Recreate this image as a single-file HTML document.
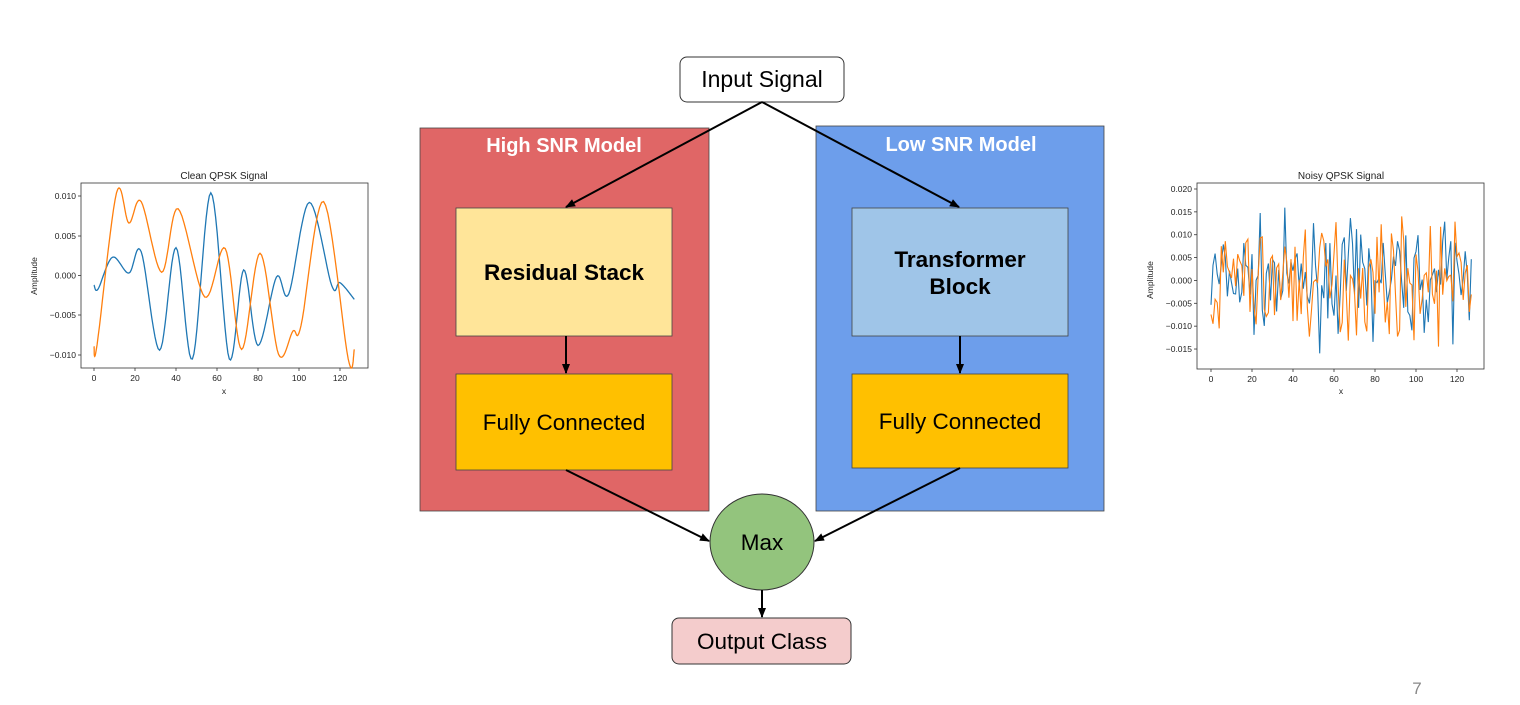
<!DOCTYPE html>
<html><head><meta charset="utf-8"><style>
body{margin:0;width:1520px;height:705px;background:#fff;overflow:hidden;font-family:"Liberation Sans",sans-serif}
svg{position:absolute;left:0;top:0}
</style></head><body>
<svg width="1520" height="705" viewBox="0 0 1520 705" font-family="Liberation Sans, sans-serif">
<defs><marker id="a" markerWidth="10" markerHeight="10" refX="9" refY="5" orient="auto" markerUnits="userSpaceOnUse"><path d="M0,1 L10,5 L0,9 z" fill="#000"/></marker></defs>
<rect x="420" y="128" width="289" height="383" fill="#e06666" stroke="#444" stroke-width="0.8"/>
<text x="564" y="152" text-anchor="middle" fill="#fff" font-weight="bold" font-size="20">High SNR Model</text>
<rect x="816" y="126" width="288" height="385" fill="#6d9eeb" stroke="#444" stroke-width="0.8"/>
<text x="961" y="151" text-anchor="middle" fill="#fff" font-weight="bold" font-size="20">Low SNR Model</text>
<rect x="680" y="57" width="164" height="45" rx="7" fill="#fff" stroke="#333"/>
<text x="762" y="87" text-anchor="middle" font-size="23">Input Signal</text>
<rect x="456" y="208" width="216" height="128" fill="#ffe599" stroke="#444" stroke-width="0.8"/>
<text x="564" y="280" text-anchor="middle" font-size="22.5" font-weight="bold">Residual Stack</text>
<rect x="456" y="374" width="216" height="96" fill="#ffc000" stroke="#444" stroke-width="0.8"/>
<text x="564" y="430" text-anchor="middle" font-size="22.5">Fully Connected</text>
<rect x="852" y="208" width="216" height="128" fill="#9fc5e8" stroke="#444" stroke-width="0.8"/>
<text x="960" y="267" text-anchor="middle" font-size="22.5" font-weight="bold">Transformer</text>
<text x="960" y="294" text-anchor="middle" font-size="22.5" font-weight="bold">Block</text>
<rect x="852" y="374" width="216" height="94" fill="#ffc000" stroke="#444" stroke-width="0.8"/>
<text x="960" y="429" text-anchor="middle" font-size="22.5">Fully Connected</text>
<ellipse cx="762" cy="542" rx="52" ry="48" fill="#93c47d" stroke="#333"/>
<text x="762" y="550" text-anchor="middle" font-size="22.5">Max</text>
<rect x="672" y="618" width="179" height="46" rx="7" fill="#f4cccc" stroke="#333"/>
<text x="762" y="649" text-anchor="middle" font-size="22.5">Output Class</text>
<g stroke="#000" stroke-width="2" marker-end="url(#a)">
<line x1="762" y1="102" x2="566" y2="207"/><line x1="762" y1="102" x2="959" y2="207"/>
<line x1="566" y1="336" x2="566" y2="373"/><line x1="960" y1="336" x2="960" y2="373"/>
<line x1="566" y1="470" x2="709" y2="541"/><line x1="960" y1="468" x2="815" y2="541"/>
<line x1="762" y1="590" x2="762" y2="617"/>
</g>
<text x="1417" y="694" text-anchor="middle" font-size="17" fill="#888">7</text>
<g id="L" font-size="8.5" fill="#222">
<text x="224" y="179" text-anchor="middle" font-size="10">Clean QPSK Signal</text>
<rect x="81" y="183" width="287" height="185" fill="none" stroke="#333" stroke-width="0.8"/>
<text x="224" y="394" text-anchor="middle">x</text>
<text x="37" y="276" text-anchor="middle" transform="rotate(-90 37 276)">Amplitude</text>
</g>
<g id="R" font-size="8.5" fill="#222">
<text x="1341" y="179" text-anchor="middle" font-size="10">Noisy QPSK Signal</text>
<rect x="1197" y="183" width="287" height="186" fill="none" stroke="#333" stroke-width="0.8"/>
<text x="1341" y="394" text-anchor="middle">x</text>
<text x="1153" y="280" text-anchor="middle" transform="rotate(-90 1153 280)">Amplitude</text>
</g>
<polyline id="lb" fill="none" stroke="#1f77b4" stroke-width="1.3"/>
<polyline id="lo" fill="none" stroke="#ff7f0e" stroke-width="1.3"/>
<polyline id="rb" fill="none" stroke="#1f77b4" stroke-width="1.1"/>
<polyline id="ro" fill="none" stroke="#ff7f0e" stroke-width="1.1"/>
</svg>
<script>
var NS="http://www.w3.org/2000/svg";
function t(g,x,y,s,anc){var e=document.createElementNS(NS,"text");e.setAttribute("x",x);e.setAttribute("y",y);if(anc)e.setAttribute("text-anchor",anc);e.textContent=s;document.getElementById(g).appendChild(e);}
function ln(g,x1,y1,x2,y2){var e=document.createElementNS(NS,"line");e.setAttribute("x1",x1);e.setAttribute("y1",y1);e.setAttribute("x2",x2);e.setAttribute("y2",y2);e.setAttribute("stroke","#333");e.setAttribute("stroke-width","0.8");document.getElementById(g).appendChild(e);}
for(var i=0;i<=6;i++){var x=94+i*41;ln("L",x,368,x,371);t("L",x,381,String(i*20),"middle");}
var ly=[[0.010,196],[0.005,236],[0.000,275.5],[-0.005,315],[-0.010,355]];
ly.forEach(function(p){ln("L",78,p[1],81,p[1]);t("L",76,p[1]+3,(p[0]<0?"\u2212":"")+Math.abs(p[0]).toFixed(3),"end");});
for(var i=0;i<=6;i++){var x=1211+i*41;ln("R",x,369,x,372);t("R",x,382,String(i*20),"middle");}
for(var k=0;k<8;k++){var v=0.020-k*0.005,y=189+k*22.86;ln("R",1194,y,1197,y);t("R",1192,y+3,(v<-1e-9?"\u2212":"")+Math.abs(v).toFixed(3),"end");}
function spline(pts){var out=[];for(var i=0;i<pts.length-1;i++){var p0=pts[Math.max(0,i-1)],p1=pts[i],p2=pts[i+1],p3=pts[Math.min(pts.length-1,i+2)];for(var s=0;s<12;s++){var u=s/12,u2=u*u,u3=u2*u;var f=function(a,b,c,d){return 0.5*(2*b+(-a+c)*u+(2*a-5*b+4*c-d)*u2+(-a+3*b-3*c+d)*u3)};out.push([f(p0[0],p1[0],p2[0],p3[0]),f(p0[1],p1[1],p2[1],p3[1])]);}}out.push(pts[pts.length-1]);return out;}
function setL(id,pts){var s=spline(pts).map(function(p){return (94+p[0]*2.05).toFixed(1)+","+(275.5-p[1]*7.95).toFixed(1)}).join(" ");document.getElementById(id).setAttribute("points",s);}
setL("lb",[[0,-1.2],[2,-1.7],[9,2.3],[17,0.3],[23,3],[32,-9.4],[40,3.5],[48,-10.5],[57,10.4],[66,-10.5],[73,0.7],[80,-8.8],[89,-0.2],[95,-2.3],[105,9.2],[116,-1.3],[120,-0.9],[127,-3]]);
setL("lo",[[0,-8.9],[1.5,-8.7],[11,10.4],[17,6.6],[23,9.3],[33,0.4],[41,8.4],[54,-2.7],[64,3.4],[72,-9.3],[81,2.8],[90,-9.9],[97,-7],[101,-6.3],[112,9.3],[124,-10.5],[127,-9.3]]);
var seed=7;function rnd(){seed=(seed*16807)%2147483647;return seed/2147483647;}
function gauss(){return (rnd()+rnd()+rnd()+rnd()-2)*1.7;}
function setR(id,sc){var a=[];for(var i=0;i<128;i++){var v=gauss()*sc;v=Math.max(-17,Math.min(19,v));a.push((1211+i*2.05).toFixed(1)+","+(280-v*4.572).toFixed(1));}document.getElementById(id).setAttribute("points",a.join(" "));}
setR("rb",5.5);setR("ro",6);
</script>
</body></html>
